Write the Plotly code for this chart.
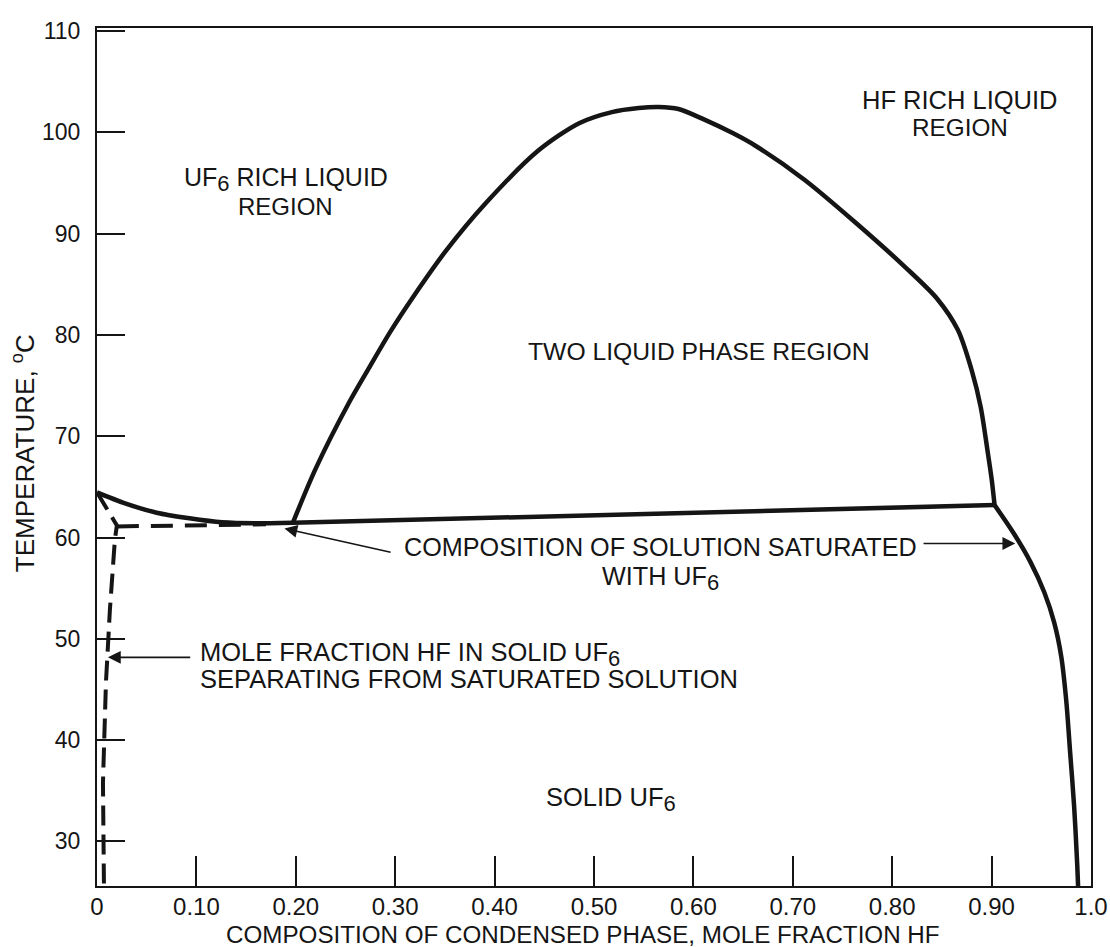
import plotly.graph_objects as go

# ---- data ----
# UF6-rich liquidus + three-phase line (solid)
liquidus_x = [0.0, 0.026, 0.060, 0.093, 0.126, 0.160, 0.197, 0.903]
liquidus_t = [64.45, 63.45, 62.45, 61.9, 61.5, 61.4, 61.45, 63.2]

# two-liquid dome (solid)
dome_x = [0.197, 0.220, 0.254, 0.274, 0.295, 0.317, 0.351, 0.391, 0.444, 0.485, 0.518,
          0.545, 0.565, 0.585, 0.610, 0.640, 0.662, 0.712, 0.763, 0.813, 0.845, 0.866,
          0.880, 0.889, 0.896, 0.900, 0.903]
dome_t = [61.45, 66.8, 73.4, 76.8, 80.3, 83.6, 88.3, 93.0, 98.2, 100.9, 102.0,
          102.4, 102.5, 102.3, 101.3, 99.9, 98.7, 95.3, 91.1, 86.7, 83.6, 80.5,
          76.5, 72.9, 68.5, 65.8, 63.2]

# HF-rich solubility curve (solid)
hf_x = [0.903, 0.923, 0.939, 0.953, 0.963, 0.970, 0.975, 0.979, 0.983, 0.986, 0.987]
hf_t = [63.2, 60.3, 57.6, 54.6, 51.6, 48.3, 44.0, 38.8, 33.5, 28.0, 25.6]

# HF in solid UF6 (dashed)
solid_x = [0.0, 0.020, 0.018, 0.013, 0.009, 0.006, 0.007]
solid_t = [64.45, 61.2, 59.8, 52.9, 45.7, 35.8, 25.6]
tie_x = [0.020, 0.170]
tie_t = [61.1, 61.3]

x_ticks = [0, 0.1, 0.2, 0.3, 0.4, 0.5, 0.6, 0.7, 0.8, 0.9, 1.0]
x_tick_labels = ["0", "0.10", "0.20", "0.30", "0.40", "0.50", "0.60", "0.70", "0.80", "0.90", "1.0"]
y_ticks = [30, 40, 50, 60, 70, 80, 90, 100, 110]
y_tick_labels = ["30", "40", "50", "60", "70", "80", "90", "100", "110"]

INK = "#151515"
FONT = "Liberation Sans, Arial, Helvetica, sans-serif"

def sub6(size):
    return "<sub><span style='font-size:%dpx'>6</span></sub>" % size

fig = go.Figure()
fig.add_trace(go.Scatter(x=liquidus_x, y=liquidus_t, mode="lines",
                         line=dict(color=INK, width=4.5, shape="spline", smoothing=0.6)))
fig.add_trace(go.Scatter(x=dome_x, y=dome_t, mode="lines",
                         line=dict(color=INK, width=4.5, shape="spline", smoothing=0.8)))
fig.add_trace(go.Scatter(x=hf_x, y=hf_t, mode="lines",
                         line=dict(color=INK, width=4.5, shape="spline", smoothing=0.9)))
fig.add_trace(go.Scatter(x=solid_x, y=solid_t, mode="lines",
                         line=dict(color=INK, width=4, dash="20px,9px")))
fig.add_trace(go.Scatter(x=tie_x, y=tie_t, mode="lines",
                         line=dict(color=INK, width=4, dash="22px,12px")))

def txt(x, y, s, size=25, xanchor="center", yanchor="middle"):
    fig.add_annotation(x=x, y=y, xref="x", yref="y", text=s, showarrow=False,
                       xanchor=xanchor, yanchor=yanchor,
                       font=dict(family=FONT, size=size, color=INK))

txt(0.19, 95.3, "UF" + sub6(22) + " RICH LIQUID", size=25)
txt(0.19, 92.65, "REGION", size=24)
txt(0.868, 103.2, "HF RICH LIQUID", size=25.5)
txt(0.868, 100.44, "REGION", size=24.3)
txt(0.606, 78.35, "TWO LIQUID PHASE REGION", size=24.7)
txt(0.5664, 59.1, "COMPOSITION OF SOLUTION SATURATED", size=25.2)
txt(0.5664, 56.0, "WITH UF" + sub6(22), size=25.2)
txt(0.1015, 48.5, "MOLE FRACTION HF IN SOLID UF" + sub6(22), size=25.5, xanchor="left")
txt(0.1015, 46.0, "SEPARATING FROM SATURATED SOLUTION", size=25.5, xanchor="left")
txt(0.517, 34.1, "SOLID UF" + sub6(22), size=25.5)

def arrow(x0, y0, x1, y1):
    fig.add_annotation(x=x1, y=y1, ax=x0, ay=y0, xref="x", yref="y", axref="x", ayref="y",
                       text="", showarrow=True, arrowhead=2, arrowsize=1.6,
                       arrowwidth=1.6, arrowcolor=INK, standoff=0)

arrow(0.2969, 58.52, 0.1886, 60.89)
arrow(0.8300, 59.41, 0.9238, 59.41)
arrow(0.0953, 48.17, 0.011, 48.17)

# axis titles
fig.add_annotation(x=0.4885, y=-0.056, xref="paper", yref="paper", showarrow=False,
                   text="COMPOSITION OF CONDENSED PHASE, MOLE FRACTION HF",
                   font=dict(family=FONT, size=24.2, color=INK), xanchor="center", yanchor="middle")
fig.add_annotation(x=-0.074, y=0.505, xref="paper", yref="paper", showarrow=False,
                   text="TEMPERATURE, <sup>o</sup>C", textangle=-90,
                   font=dict(family=FONT, size=26, color=INK), xanchor="center", yanchor="middle")

axis_common = dict(showgrid=False, zeroline=False, showline=True, linecolor=INK, linewidth=2.2,
                   mirror=True, ticks="inside", tickcolor=INK, tickwidth=2, automargin=False)
fig.update_xaxes(range=[0, 1.0], tickvals=x_ticks, ticktext=x_tick_labels, ticklen=30,
                 tickfont=dict(family=FONT, size=24, color=INK), ticklabelstandoff=-2,
                 **axis_common)
fig.update_yaxes(range=[25.6, 110.3], tickvals=y_ticks, ticktext=y_tick_labels, ticklen=28,
                 tickfont=dict(family=FONT, size=23, color=INK), ticklabelstandoff=10,
                 **axis_common)

fig.update_layout(width=1110, height=947, showlegend=False,
                  margin=dict(l=97, r=19, t=28, b=61),
                  paper_bgcolor="white", plot_bgcolor="white")

fig.write_html("out.html")
